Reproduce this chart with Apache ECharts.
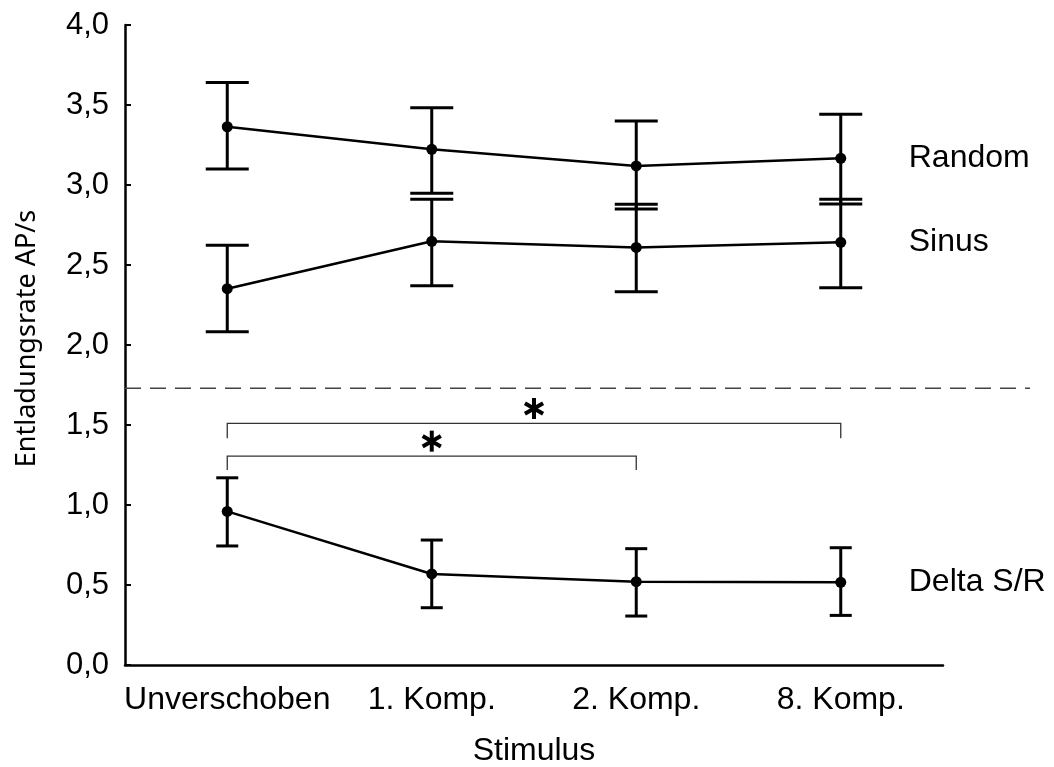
<!DOCTYPE html>
<html>
<head>
<meta charset="utf-8">
<script src="https://cdn.jsdelivr.net/npm/echarts@6/dist/echarts.min.js"></script>
<style>
  html, body { margin: 0; padding: 0; background: #fff; }
  #chart { width: 1054px; height: 767px; }
</style>
</head>
<body>
<div id="chart"></div>
<script>
// Stimulus conditions
const categories = ['Unverschoben', '1. Komp.', '2. Komp.', '8. Komp.'];

// Firing rate (AP/s): means and error-bar limits
const randomMean  = [3.364, 3.223, 3.119, 3.167];
const randomUpper = [3.640, 3.483, 3.400, 3.442];
const randomLower = [3.100, 2.948, 2.850, 2.881];

const sinusMean  = [2.352, 2.648, 2.610, 2.642];
const sinusUpper = [2.623, 2.911, 2.879, 2.911];
const sinusLower = [2.083, 2.371, 2.333, 2.358];

const deltaMean  = [0.960, 0.569, 0.521, 0.517];
const deltaUpper = [1.170, 0.781, 0.727, 0.733];
const deltaLower = [0.744, 0.358, 0.306, 0.310];

// Separator between raw rates and the S/R difference
const separatorValue = 1.73;

// Significance brackets: [from category, to category, bracket height, leg end]
const brackets = [
  [0, 3, 1.51, 1.417],
  [0, 2, 1.306, 1.219]
];
const starOffset = 0.093;

// Axis ticks
const yMin = 0, yMax = 4, yStep = 0.5;

const ARIAL = '"Liberation Sans", Arial, sans-serif';

function errorBarSeries(lower, upper, capWidth) {
  return {
    type: 'custom',
    xAxisIndex: 0, yAxisIndex: 0,
    data: categories.map((c, i) => [i, lower[i], upper[i]]),
    encode: { x: 0, y: [1, 2] },
    z: 2,
    renderItem: function (params, api) {
      const x = api.value(0);
      const lo = api.coord([x, api.value(1)]);
      const hi = api.coord([x, api.value(2)]);
      const h = capWidth / 2;
      const st = { stroke: '#000', lineWidth: 3 };
      return {
        type: 'group',
        children: [
          { type: 'line', shape: { x1: hi[0], y1: hi[1], x2: lo[0], y2: lo[1] }, style: st },
          { type: 'line', shape: { x1: hi[0] - h, y1: hi[1], x2: hi[0] + h, y2: hi[1] }, style: st },
          { type: 'line', shape: { x1: lo[0] - h, y1: lo[1], x2: lo[0] + h, y2: lo[1] }, style: st }
        ]
      };
    }
  };
}

function meanSeries(name, values) {
  return {
    name: name,
    type: 'line',
    xAxisIndex: 0, yAxisIndex: 0,
    data: values,
    z: 3,
    symbol: 'circle',
    symbolSize: 11,
    itemStyle: { color: '#000' },
    lineStyle: { color: '#000', width: 2.5 },
    endLabel: {
      show: true,
      formatter: '{a}',
      distance: 68,
      color: '#000',
      fontFamily: ARIAL,
      fontSize: 32
    }
  };
}

const chart = echarts.init(document.getElementById('chart'), null, { renderer: 'canvas' });

chart.setOption({
  animation: false,
  backgroundColor: '#fff',
  grid: [
    { left: 125, right: 111, top: 25, bottom: 102, outerBoundsMode: 'none', containLabel: false },
    { left: 125, right: 24, top: 25, bottom: 102, outerBoundsMode: 'none', containLabel: false }
  ],
  xAxis: [
    {
      type: 'category',
      gridIndex: 0,
      data: categories,
      boundaryGap: true,
      name: 'Stimulus',
      nameLocation: 'middle',
      nameGap: 70,
      nameTextStyle: { fontFamily: ARIAL, fontSize: 32, color: '#000' },
      axisLine: { lineStyle: { color: '#000', width: 2.5 } },
      axisTick: { inside: true, length: 6, alignWithLabel: true, lineStyle: { color: '#000', width: 2 } },
      axisLabel: { fontFamily: ARIAL, fontSize: 32, color: '#000', margin: 19, interval: 0 }
    },
    {
      type: 'value', gridIndex: 1, min: 0, max: 1, show: false
    }
  ],
  yAxis: [
    {
      type: 'value',
      gridIndex: 0,
      min: yMin, max: yMax, interval: yStep,
      name: 'Entladungsrate AP/s',
      nameLocation: 'middle',
      nameGap: 84,
      nameRotate: 90,
      nameTextStyle: { fontFamily: '"Noto Sans", "Open Sans", sans-serif', fontSize: 27, color: '#000', padding: [0, 0, 0, 13] },
      axisLine: { show: true, lineStyle: { color: '#000', width: 2.5 } },
      axisTick: { show: true, inside: true, length: 6, lineStyle: { color: '#000', width: 2 } },
      splitLine: { show: false },
      axisLabel: {
        fontFamily: ARIAL, fontSize: 31, color: '#000', margin: 16,
        formatter: v => v.toFixed(1).replace('.', ',')
      }
    },
    {
      type: 'value', gridIndex: 1, min: yMin, max: yMax, show: false
    }
  ],
  series: [
    errorBarSeries(randomLower, randomUpper, 43),
    errorBarSeries(sinusLower, sinusUpper, 43),
    errorBarSeries(deltaLower, deltaUpper, 22),
    meanSeries('Random', randomMean),
    meanSeries('Sinus', sinusMean),
    meanSeries('Delta S/R', deltaMean),
    {
      // dashed separator across the plot
      type: 'line',
      xAxisIndex: 1, yAxisIndex: 1,
      data: [[0, separatorValue], [1, separatorValue]],
      symbol: 'none',
      silent: true,
      lineStyle: { color: '#444', width: 1.5, type: [16, 9] }
    },
    {
      // significance brackets with asterisks
      type: 'custom',
      xAxisIndex: 0, yAxisIndex: 0,
      data: brackets,
      encode: { x: [0, 1], y: [2, 3] },
      z: 4,
      renderItem: function (params, api) {
        const a = api.value(0), b = api.value(1);
        const top = api.value(2), leg = api.value(3);
        const pA = api.coord([a, top]);
        const pB = api.coord([b, top]);
        const yLeg = api.coord([a, leg])[1];
        const yStar = api.coord([a, top + starOffset])[1];
        const xm = (pA[0] + pB[0]) / 2;
        const br = { stroke: '#333', lineWidth: 1.3, fill: null };
        const ss = { stroke: '#000', lineWidth: 4, lineCap: 'butt' };
        const r = 10.5;
        const c = Math.cos(Math.PI / 6) * r, s = Math.sin(Math.PI / 6) * r;
        return {
          type: 'group',
          children: [
            { type: 'polyline', shape: { points: [[pA[0], yLeg], [pA[0], pA[1]], [pB[0], pB[1]], [pB[0], yLeg]] }, style: br },
            { type: 'line', shape: { x1: xm, y1: yStar - r, x2: xm, y2: yStar + r }, style: ss },
            { type: 'line', shape: { x1: xm - c, y1: yStar - s, x2: xm + c, y2: yStar + s }, style: ss },
            { type: 'line', shape: { x1: xm - c, y1: yStar + s, x2: xm + c, y2: yStar - s }, style: ss }
          ]
        };
      }
    }
  ]
});
</script>
</body>
</html>
